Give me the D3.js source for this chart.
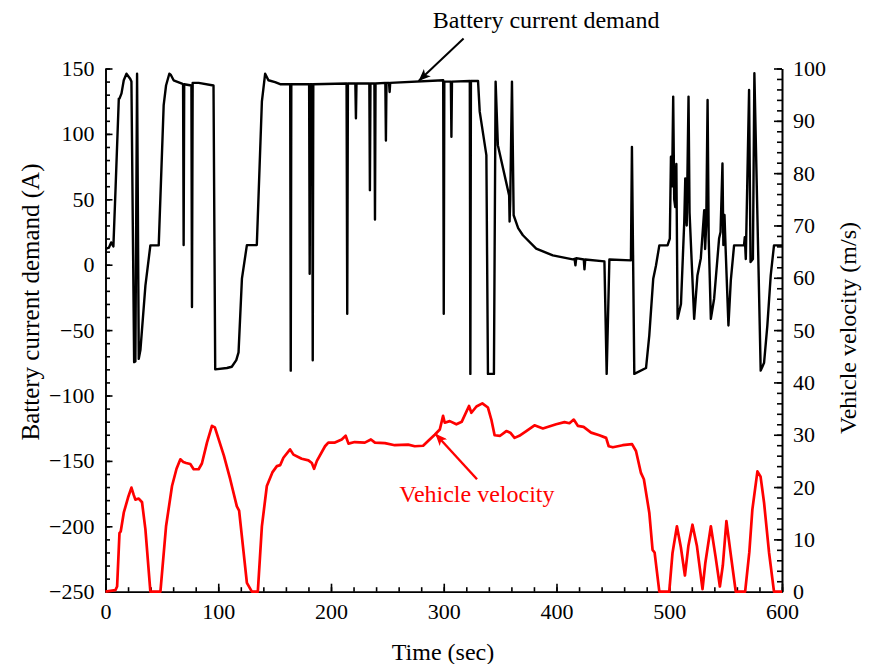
<!DOCTYPE html>
<html>
<head>
<meta charset="utf-8">
<script src="https://cdn.jsdelivr.net/npm/d3@7"></script>
<style>
  body { margin: 0; background: #fff; }
  svg { display: block; }
  text { font-family: "Liberation Serif", "Times New Roman", serif; }
</style>
</head>
<body>
<div class="chart-area"></div>
<script>
// battery current demand (A) vs time (s)
const currentTime = [0, 3, 5, 7, 9, 11.8, 12.4, 14.2, 16.2, 18.6, 22, 23, 25.4, 26.5, 28, 29.5, 31, 35.4, 39.8, 47.2,
  51.6, 53.7, 56.6, 58, 60.4, 67.8, 68.8, 69.3, 69.8, 76.2, 76.7, 77.3, 82.6, 95.8, 97.3, 107.7, 112, 116, 118, 121,
  125.4, 134.2, 138.7, 141.6, 144.5, 150.4, 154.9, 163.8, 164.3, 164.8, 180.6, 181.1, 181.6, 183.3, 183.8, 184.3,
  213.8, 214.4, 215, 221.6, 222.1, 222.6, 234, 234.5, 235, 238.5, 239, 239.5, 248.2, 248.7, 249.2, 251.5, 252, 252.5,
  299.5, 300, 300.5, 306.3, 306.8, 307.3, 323.1, 323.6, 324.1, 330.4, 331.9, 337.8, 339.2, 344.5, 346, 348, 358,
  358.4, 359, 360.5, 362, 366, 370.2, 382, 396.7, 414.4, 416, 416.8, 417.5, 424.2, 424.8, 425.5, 442.5, 444.5, 446.9,
  466, 466.9, 469, 479.4, 482.3, 485.8, 488.2, 491.2, 498.5, 500.5, 501.5, 502.5, 503.5, 504.4, 505.3, 506.3, 507.4,
  510.4, 513.3, 514.2, 515.5, 517.1, 518, 522.1, 525, 528, 531, 531.8, 532.8, 534, 535, 536.9, 539.8, 544.2, 545.5,
  547.2, 548, 549, 550, 552.5, 554.6, 557.5, 566.3, 567, 567.9, 570.8, 572.1, 574.2, 575.5, 581.1, 584.1, 587, 590,
  592.9, 600];
const currentValue = [12, 13, 17, 14, 60, 127, 127, 131, 141, 146, 142, 140, -74.5, -74, 146, -72, -65, -16, 14.8, 14.8,
  122, 137, 146, 145, 141, 138.5, 138, 15, 138, 137, -32.4, 139, 139, 137, -80, -79, -78, -73, -67, -10.7,
  15, 15, 124.6, 146, 141, 139.6, 138, 138, -81, 138, 138, -7, 138, 138, -73, 138,
  138.5, -37.5, 138.5, 138.5, 112, 138.5, 138.5, 57, 138.5, 138.5, 34.5, 138.5, 139, 95, 139, 139, 132, 139,
  141, -37.5, 140, 140, 97.8, 140, 140.5, -83.5, 140.5, 140.5, 117, 83.8, -83.5, -83.5, 140, 91.4, 53,
  33, 50, 140, 37.8, 28, 22.5, 12.3, 7.1, 4.1, 4.5, -0.5, 5, 4, -3.6, 4, 2.5, -83.5, 4,
  3.3, 90.1, -83.5, -79, -54, -10.7, -0.8, 14.8, 14.8, 20, 82.5, 60, 128.5, 50, 44, 77, -41.4,
  -30, 32.7, 65.9, 30, 128.5, 40, -41.4, -8.2, 5, 41.6, 12, 30, 126, 20, -41.4, -26, 20, 25,
  77.4, 15, 38, 12, -46.5, -12, 14.8, 14.8, 21, 4.3, 133.6, 2, 4.3, 146.4, -81, -75, -46.5, -8.2,
  14.8, 14.8];

// vehicle velocity (m/s) vs time (s)
const velocityTime = [0, 8.8, 10.3, 12.4, 13.5, 16.2, 20, 23, 25, 26.5, 29.5, 32.4, 35.4, 39.8, 48.7, 53.7, 59, 63,
  66.4, 69, 71.5, 75.2, 78.2, 82.6, 85.5, 90, 94.4, 97, 105, 110.6, 116.5, 118.5, 125.4, 129.8, 135.1, 138.7, 143.1,
  148, 152, 155, 157.8, 163.7, 166.7, 174, 180, 183, 185, 187.5, 194.7, 197.6, 203.5, 209.5, 213, 215.5, 221, 230,
  235.4, 239, 247.8, 256.6, 268.4, 274.3, 281.7, 286.1, 292, 296.5, 299.4, 300.9, 305.3, 311.2, 316, 322.4, 324.5,
  329, 334.2, 339.2, 342.2, 345.1, 350, 355.5, 359, 362.8, 367, 373.2, 380.5, 387.9, 399.7, 407.1, 411.5, 415.3,
  418.9, 424, 430.7, 438, 444, 446.3, 450, 458.7, 467, 470.5, 474.9, 477.5, 482.3, 485.2, 487, 491.2, 500, 502.9,
  506.8, 510.3, 513.9, 517, 520.6, 524.5, 529.5, 532, 536.9, 541, 544.9, 547.5, 550.7, 554.5, 559, 567.3, 571, 573.7,
  578.2, 581, 584.1, 588.5, 592.9, 600];
const velocityValue = [0, 0.3, 1, 11.2, 11.5, 15.1, 18, 19.9, 18.5, 17.6, 17.8, 17.1, 11.9, 0, 0, 12.5, 20.2, 23.5,
  25.3, 24.8, 24.6, 24.4, 23.4, 23.4, 24.5, 28.5, 31.7, 31.4, 26, 21.5, 16.3, 15.5, 1.7, 0, 0, 12.5, 20.2,
  22.8, 24, 24.2, 25.6, 27.2, 26.2, 25.4, 25.1, 24.6, 23.5, 25, 27.8, 28.5, 28.5, 29.1, 29.8, 28.3, 28.6, 28.5,
  29.1, 28.5, 28.4, 28, 28.1, 27.8, 27.9, 28.8, 30, 31, 33.6, 32.3, 32.6, 32, 32.5, 35.5, 34.2,
  35.4, 36, 35.2, 32.9, 29.9, 29.8, 30.7, 30.4, 29.4, 29.8, 30.7, 31.8, 31.2, 32, 32.4, 32.2, 32.9,
  31.7, 31.5, 30.4, 29.9, 29.4, 27.8, 27.6, 28, 28.2, 26.9, 22.7, 21.5, 15.1, 8, 7.5, 0, 0, 7.4,
  12.5, 8.5, 3.1, 8.8, 12.8, 8.8, 0.5, 5.5, 12.5, 6.8, 1, 5, 13.5, 7.2, 0, 0, 7.5, 15.7,
  23, 22, 17, 7.5, 0, 0];

const xTicks = [0, 100, 200, 300, 400, 500, 600];
const leftTicks = [150, 100, 50, 0, -50, -100, -150, -200, -250];
const rightTicks = [100, 90, 80, 70, 60, 50, 40, 30, 20, 10, 0];

const width = 870, height = 664;
const margin = { top: 68.5, right: 88, bottom: 72.3, left: 105.5 };
const innerWidth = width - margin.left - margin.right,
  innerHeight = height - margin.top - margin.bottom;

const svg = d3.select(".chart-area").append("svg")
  .attr("width", width).attr("height", height)
  .append("g")
  .attr("transform", `translate(${margin.left},${margin.top})`);

const x = d3.scaleLinear().domain([0, 600]).range([0, innerWidth]);
const yL = d3.scaleLinear().domain([-250, 150]).range([innerHeight, 0]);
const yR = d3.scaleLinear().domain([0, 100]).range([innerHeight, 0]);

function styleAxis(g) {
  g.selectAll("path, line").attr("stroke", "#000").attr("stroke-width", 1.6);
  g.selectAll("text").attr("font-size", 22).attr("fill", "#000")
    .attr("font-family", "'Liberation Serif', 'Times New Roman', serif");
}
const noText = g => g.selectAll("text").remove();

// minor ticks
svg.append("g").attr("transform", `translate(0,${innerHeight})`)
  .call(d3.axisBottom(x).tickValues(d3.range(0, 601, 20)).tickSize(-4.5).tickSizeOuter(0))
  .call(noText).call(styleAxis);
svg.append("g")
  .call(d3.axisLeft(yL).tickValues(d3.range(-250, 151, 10)).tickSize(-4.5).tickSizeOuter(0))
  .call(noText).call(styleAxis);
svg.append("g").attr("transform", `translate(${innerWidth},0)`)
  .call(d3.axisRight(yR).tickValues(d3.range(0, 101, 2)).tickSize(-5).tickSizeOuter(0))
  .call(noText).call(styleAxis);

// major ticks
svg.append("g").attr("transform", `translate(0,${innerHeight})`)
  .call(d3.axisBottom(x).tickValues(xTicks).tickSize(-8).tickSizeOuter(0).tickPadding(12))
  .call(styleAxis);
svg.append("g")
  .call(d3.axisLeft(yL).tickValues(leftTicks).tickSize(-7).tickSizeOuter(0).tickPadding(11))
  .call(styleAxis);
svg.append("g").attr("transform", `translate(${innerWidth},0)`)
  .call(d3.axisRight(yR).tickValues(rightTicks).tickSize(-8).tickSizeOuter(0).tickPadding(11))
  .call(styleAxis);

// lines
const current = currentTime.map((t, i) => ({ t, v: currentValue[i] }));
const velocity = velocityTime.map((t, i) => ({ t, v: velocityValue[i] }));

svg.append("path").datum(velocity)
  .attr("fill", "none").attr("stroke", "#ff0000").attr("stroke-width", 2.7)
  .attr("stroke-linejoin", "round")
  .attr("d", d3.line().x(d => x(d.t)).y(d => yR(d.v)));

svg.append("path").datum(current)
  .attr("fill", "none").attr("stroke", "#000").attr("stroke-width", 2.4)
  .attr("stroke-linejoin", "round")
  .attr("d", d3.line().x(d => x(d.t)).y(d => yL(d.v)));

// arrows
const defs = svg.append("defs");
[["arrowK", "#000"], ["arrowR", "#ff0000"]].forEach(([id, c]) => {
  defs.append("marker").attr("id", id)
    .attr("viewBox", "0 0 12 10").attr("refX", 12).attr("refY", 5)
    .attr("markerWidth", 13).attr("markerHeight", 10).attr("markerUnits", "userSpaceOnUse")
    .attr("orient", "auto")
    .append("path").attr("d", "M0,0 L12,5 L0,10 L3,5 Z").attr("fill", c);
});

svg.append("line")
  .attr("x1", x(317.6)).attr("y1", yL(173)).attr("x2", x(277.7)).attr("y2", yL(140.5))
  .attr("stroke", "#000").attr("stroke-width", 2).attr("marker-end", "url(#arrowK)");
svg.append("text")
  .attr("x", x(290.3)).attr("y", yL(181))
  .attr("font-size", 24).attr("fill", "#000")
  .text("Battery current demand");

svg.append("line")
  .attr("x1", x(329.5)).attr("y1", yR(21.5)).attr("x2", x(292.5)).attr("y2", yR(30.2))
  .attr("stroke", "#ff0000").attr("stroke-width", 2.4).attr("marker-end", "url(#arrowR)");
svg.append("text")
  .attr("x", x(260.5)).attr("y", yR(17.1))
  .attr("font-size", 24).attr("fill", "#ff0000")
  .text("Vehicle velocity");

// axis titles
svg.append("text")
  .attr("transform", `translate(${30 - margin.left},${302 - margin.top}) rotate(-90)`)
  .attr("text-anchor", "middle").attr("dy", "0.35em")
  .attr("font-size", 25).text("Battery current demand (A)");
svg.append("text")
  .attr("transform", `translate(${848 - margin.left},${328 - margin.top}) rotate(-90)`)
  .attr("text-anchor", "middle").attr("dy", "0.35em")
  .attr("font-size", 24).text("Vehicle velocity (m/s)");
svg.append("text")
  .attr("x", 443 - margin.left).attr("y", 660 - margin.top)
  .attr("text-anchor", "middle")
  .attr("font-size", 24).text("Time (sec)");
</script>
</body>
</html>
